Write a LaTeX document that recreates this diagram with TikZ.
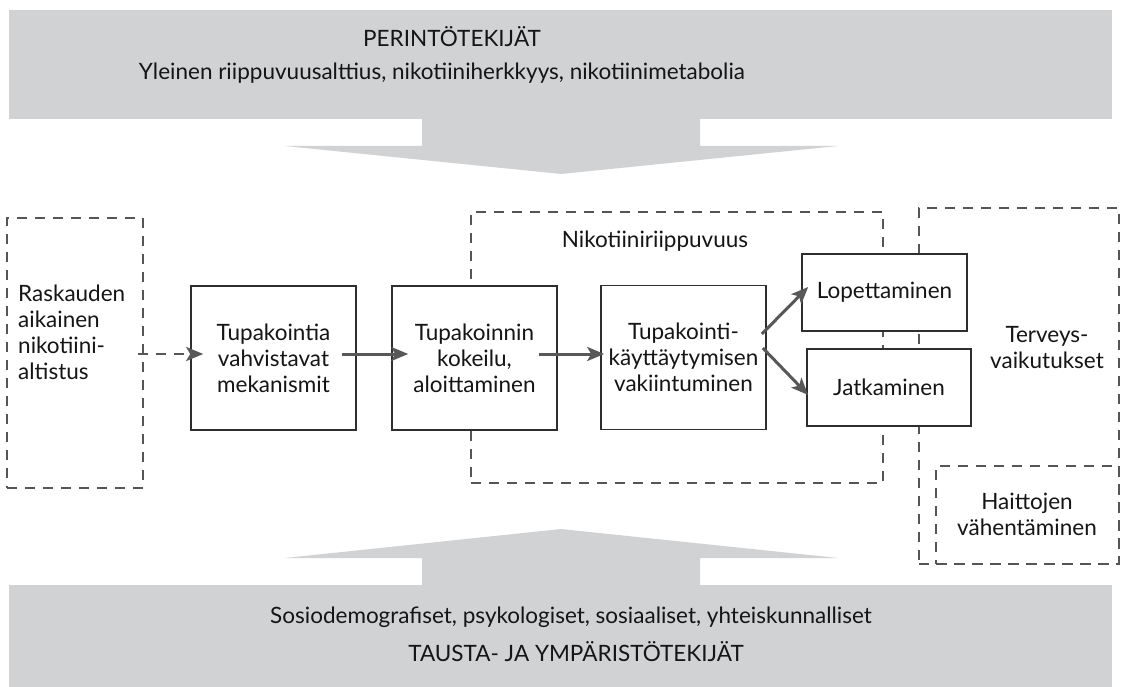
\documentclass[tikz,border=0pt]{standalone}
\usepackage{fontspec}
\setmainfont{Lato}
\usetikzlibrary{arrows.meta,calc}
\definecolor{bandgray}{HTML}{D1D2D4}
\definecolor{dashgray}{HTML}{555555}
\definecolor{arrowgray}{HTML}{585858}
\definecolor{boxline}{HTML}{2E2E2E}
\definecolor{ink}{HTML}{151515}
\begin{document}
\begin{tikzpicture}[x=1pt,y=-1pt,
  txt/.style={inner sep=0pt, text=ink, font=\fontsize{22.5}{26}\selectfont},
  bandtext/.style={txt},
  stepbox/.style={txt, draw=boxline, line width=1.6pt, fill=white, align=center,
    minimum width=165pt, minimum height=144pt},
  outbox/.style={txt, draw=boxline, line width=1.6pt, fill=white, align=center,
    minimum height=77pt},
  frame/.style={draw=dashgray, line width=2.9pt, dash pattern=on 10pt off 8pt, inner sep=0pt},
  flow/.style={draw=arrowgray, line width=3pt, -{Stealth[length=17pt,width=14pt,inset=4pt]}},
  dflow/.style={flow, line width=2.8pt, dash pattern=on 10pt off 8pt}
]
\useasboundingbox (0,0) rectangle (1125,687);

% top band
\fill[bandgray] (9,10) rectangle (1112,119);
\fill[bandgray] (422,118) -- (700,118) -- (700,146) -- (838,146) -- (561,174)
  -- (285,146) -- (422,146) -- cycle;
\node[bandtext] (herit) at (452,37) {PERINTÖTEKIJÄT};
\node[bandtext] (heritsub) at (442,73) {Yleinen riippuvuusalttius, nikotiiniherkkyys, nikotiinimetabolia};

% bottom band
\fill[bandgray] (9,585) rectangle (1112,687);
\fill[bandgray] (422,586) -- (422,558) -- (285,558) -- (561,529) -- (838,558)
  -- (700,558) -- (700,586) -- cycle;
\node[bandtext] (envsub) at (571,617) {Sosiodemografiset, psykologiset, sosiaaliset, yhteiskunnalliset};
\node[bandtext] (env) at (576,652) {TAUSTA- JA YMPÄRISTÖTEKIJÄT};

% dashed frames
\node[frame, minimum width=136pt, minimum height=270pt] (pregframe) at (75,353) {};
\node[txt, align=left, anchor=west] (preg) at (18,332) {Raskauden\\aikainen\\nikotiini-\\altistus};

\node[frame, minimum width=412pt, minimum height=271pt] (depframe) at (677,347.5) {};
\node[txt] (dep) at (655,241) {Nikotiiniriippuvuus};

\node[frame, minimum width=200pt, minimum height=356pt] (healthframe) at (1019,386) {};
\node[txt, align=center] (health) at (1047,348) {Terveys-\\vaikutukset};

\node[frame, minimum width=183pt, minimum height=98pt] (harmframe) at (1027.5,515) {};
\node[txt, align=center] (harm) at (1027,514) {Haittojen\\vähentäminen};

% step boxes
\node[stepbox] (b1) at (273.5,358) {Tupakointia\\vahvistavat\\mekanismit};
\node[stepbox] (b2) at (474.5,358) {Tupakoinnin\\kokeilu,\\aloittaminen};
\node[stepbox] (b3) at (683.5,357.5) {Tupakointi-\\käyttäytymisen\\vakiintuminen};
\node[outbox, minimum width=165pt] (lop) at (884.5,292.5) {Lopettaminen};
\node[outbox, minimum width=164pt] (jat) at (889,387.5) {Jatkaminen};

% connectors
\draw[dflow] ($(pregframe.east)+(-6,1)$) -- ($(b1.west)+(13,-4)$);
\draw[flow] ($(b1.east)+(-15,-4)$) -- ($(b2.west)+(17,-4)$);
\draw[flow] ($(b2.east)+(-19,-4)$) -- ($(b3.west)+(4,-3.5)$);
\draw[flow] ($(b3.east)+(-5,-23.5)$) -- ($(lop.west)+(7,-5.5)$);
\draw[flow] ($(b3.east)+(-4,-9.5)$) -- ($(jat.west)+(2,7.5)$);
\end{tikzpicture}
\end{document}
